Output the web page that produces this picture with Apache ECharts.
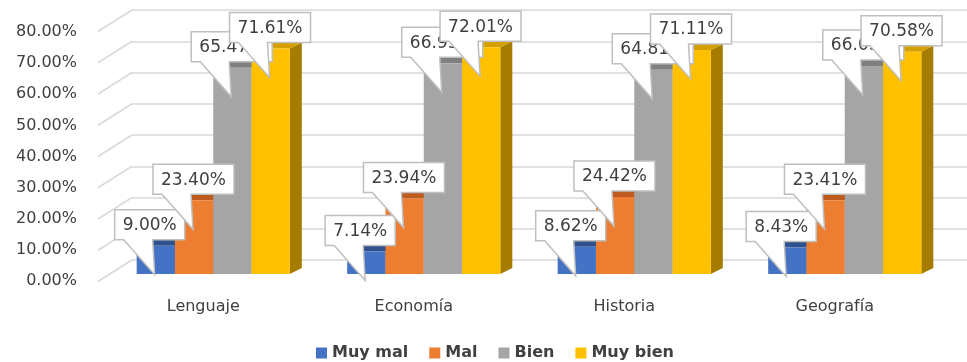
<!DOCTYPE html>
<html><head><meta charset="utf-8">
<script src="https://cdn.jsdelivr.net/npm/echarts@6/dist/echarts.min.js"></script>
<style>html,body{margin:0;padding:0;background:#fff}#chart{width:967px;height:362px}</style>
</head><body><div id="chart"></div>
<script>
// Chart data
const categories = ['Lenguaje', 'Economía', 'Historia', 'Geografía'];
const seriesNames = ['Muy mal', 'Mal', 'Bien', 'Muy bien'];
const muyMal = [9.00, 7.14, 8.62, 8.43];
const mal = [23.40, 23.94, 24.42, 23.41];
const bien = [65.47, 66.93, 64.81, 66.03];
const muyBien = [71.61, 72.01, 71.11, 70.58];
const yTicks = [0, 10, 20, 30, 40, 50, 60, 70, 80];

const allValues = [muyMal, mal, bien, muyBien];
const frontColors = ['#4472C4', '#ED7D31', '#A5A5A5', '#FFC000'];
const topColors = ['#2F528F', '#BE5B1E', '#7F7F7F', '#D4A000'];
const sideColors = ['#2F528F', '#AE5A21', '#7F7F7F', '#A67C00'];
const FONT = '"DejaVu Sans", Verdana, sans-serif';
const GROUP = 0.7275;      // share of a category band covered by the bar group
const DEPTH = [12, -6];    // 3D extrusion of each bar

const measureCtx = document.createElement('canvas').getContext('2d');
measureCtx.font = '17px ' + FONT;
const fmt = v => v.toFixed(2) + '%';

function barBox(api, s) {
  const idx = api.value(0), v = api.value(1);
  const band = api.size([1, 0])[0];
  const base = api.coord([idx, 0]);
  const top = api.coord([idx, v]);
  const bw = band * GROUP / 4;
  const x0 = base[0] - band * GROUP / 2 + s * bw;
  return { x0, x1: x0 + bw, yT: top[1], yB: base[1], v };
}

function barRenderer(s) {
  return function (params, api) {
    const b = barBox(api, s);
    const [dx, dy] = DEPTH;
    return {
      type: 'group',
      children: [
        { type: 'polygon', shape: { points: [[b.x1, b.yT], [b.x1 + dx, b.yT + dy], [b.x1 + dx, b.yB + dy], [b.x1, b.yB]] },
          style: { fill: sideColors[s] } },
        { type: 'polygon', shape: { points: [[b.x0, b.yT], [b.x1, b.yT], [b.x1 + dx, b.yT + dy], [b.x0 + dx, b.yT + dy]] },
          style: { fill: topColors[s] } },
        { type: 'rect', shape: { x: b.x0, y: b.yT, width: b.x1 - b.x0, height: b.yB - b.yT },
          style: { fill: frontColors[s] } }
      ]
    };
  };
}

function calloutRenderer(s) {
  return function (params, api) {
    const b = barBox(api, s);
    const text = fmt(b.v);
    const W = Math.round(measureCtx.measureText(text).width) + 16;
    const H = 30;
    const L = b.x0 - 22;
    const B = b.yT + DEPTH[1];
    const T = B - H;
    return {
      type: 'group',
      children: [
        { type: 'polygon',
          shape: { points: [[L, T], [L + W, T], [L + W, B], [L + 38, B], [L + 40, B + 35], [L + 9, B], [L, B]] },
          style: { fill: '#ffffff', stroke: '#BFBFBF', lineWidth: 1.5 } },
        { type: 'text',
          style: { text: text, x: L + W / 2, y: T + H / 2 + 1, align: 'center', verticalAlign: 'middle',
                   font: '17px ' + FONT, fill: '#404040' } }
      ]
    };
  };
}

const series = [];
// slanted floor-to-wall gridline segments
series.push({
  type: 'custom', xAxisIndex: 1, yAxisIndex: 1, silent: true, z: 1,
  data: yTicks.map(v => [0, v]),
  renderItem: function (params, api) {
    const p = api.coord([0, api.value(1)]);
    return { type: 'line', shape: { x1: p[0] - 34, y1: p[1] + 21.5, x2: p[0], y2: p[1] },
             style: { stroke: '#D9D9D9', lineWidth: 1.5 } };
  }
});
allValues.forEach((vals, s) => {
  series.push({
    type: 'custom', name: seriesNames[s], xAxisIndex: 2, yAxisIndex: 2, z: 2,
    itemStyle: { color: frontColors[s] },
    data: vals.map((v, i) => [i, v]),
    encode: { x: 0, y: 1 },
    renderItem: barRenderer(s)
  });
});
allValues.forEach((vals, s) => {
  series.push({
    type: 'custom', xAxisIndex: 2, yAxisIndex: 2, z: 5, silent: true,
    data: vals.map((v, i) => [i, v]),
    encode: { x: 0, y: 1 },
    renderItem: calloutRenderer(s)
  });
});

const chart = echarts.init(document.getElementById('chart'), null, { renderer: 'canvas' });
chart.setOption({
  animation: false,
  backgroundColor: '#ffffff',
  grid: [
    { left: 98, right: 27, top: 32, bottom: 81 },   // front edge: tick and category labels
    { left: 132, right: 0, top: 10, bottom: 102 },  // back wall
    { left: 108, right: 17, top: 22, bottom: 88 }   // bar plane
  ],
  xAxis: [
    { type: 'category', gridIndex: 0, data: categories,
      axisLine: { show: false }, axisTick: { show: false },
      axisLabel: { margin: 18, fontSize: 16, color: '#404040', fontFamily: FONT } },
    { type: 'value', gridIndex: 1, min: 0, max: 1, show: false },
    { type: 'category', gridIndex: 2, data: categories, show: false }
  ],
  yAxis: [
    { type: 'value', gridIndex: 0, min: 0, max: 80, interval: 10,
      axisLine: { show: false }, axisTick: { show: false }, splitLine: { show: false },
      axisLabel: { formatter: v => fmt(v), margin: 21, fontSize: 16, color: '#404040', fontFamily: FONT } },
    { type: 'value', gridIndex: 1, min: 0, max: 80, interval: 10,
      axisLine: { show: false }, axisTick: { show: false }, axisLabel: { show: false },
      splitLine: { show: true, lineStyle: { color: '#D9D9D9', width: 1.5 } } },
    { type: 'value', gridIndex: 2, min: 0, max: 80, interval: 10, show: false }
  ],
  legend: {
    data: seriesNames, left: 311, top: 340, icon: 'rect',
    itemWidth: 11, itemHeight: 11, itemGap: 21, selectedMode: false,
    textStyle: { fontSize: 16, fontWeight: 'bold', color: '#404040', fontFamily: FONT }
  },
  series: series
});
</script>
</body></html>
